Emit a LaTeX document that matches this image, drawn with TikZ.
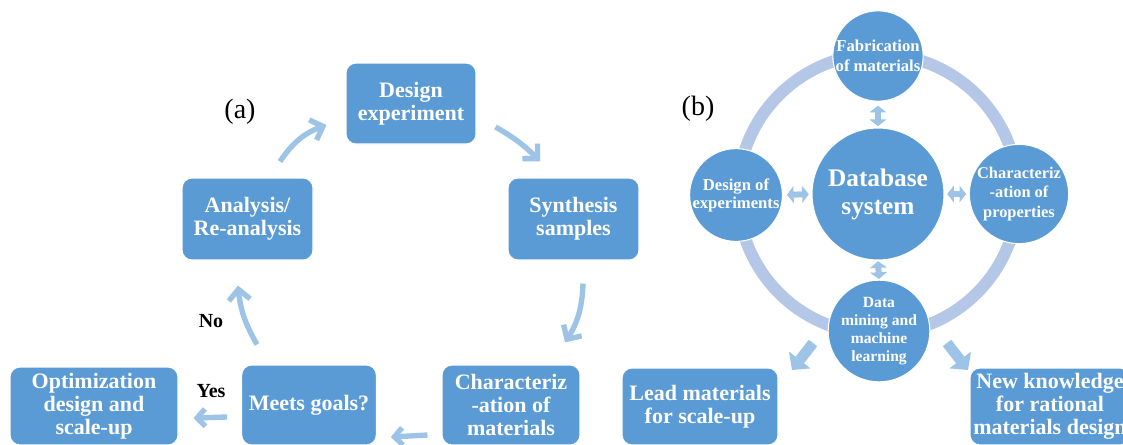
\documentclass[tikz,border=0pt]{standalone}
\usepackage{fontspec}
\setmainfont{Liberation Serif}
\usetikzlibrary{arrows.meta,calc}
\definecolor{boxblue}{HTML}{5B9BD5}
\definecolor{arrowblue}{HTML}{9DC3E6}
\definecolor{ringblue}{HTML}{B4C7E7}

\begin{document}
\begin{tikzpicture}[x=0.75pt,y=-0.75pt,
  box/.style={draw=white, line width=0.8pt, fill=boxblue, rounded corners=7.5pt,
    text=white, align=center, inner sep=0pt,
    font=\bfseries\fontsize{16.5}{17.25}\selectfont},
  disc/.style={circle, draw=white, line width=0.8pt, fill=boxblue,
    text=white, align=center, inner sep=0pt},
  flow/.style={draw=arrowblue, line width=4pt,
    -{Straight Barb[length=8pt,width=16pt]}},
  shortflow/.style={draw=arrowblue, line width=4pt,
    -{Straight Barb[length=6pt,width=13pt]}},
  twoway/.style={draw=arrowblue, line width=4.5pt,
    {Triangle[length=5pt,width=12.5pt]}-{Triangle[length=5pt,width=12.5pt]}},
  blockarrow/.style={draw=arrowblue, line width=8pt,
    -{Triangle[length=9.5pt,width=20pt]}},
  panel/.style={font=\fontsize{21}{24}\selectfont},
  answer/.style={font=\bfseries\fontsize{15}{17}\selectfont}
]
\useasboundingbox (0,0) rectangle (1123,444);

% ---------- (a) experimental cycle ----------
\node[panel] (lbla) at (240,112) {(a)};

\node[box, minimum width=97.5pt, minimum height=60.75pt] (des) at (411,103.5)
  {Design\\experiment};
\node[box, minimum width=98.25pt, minimum height=61.5pt] (syn) at (573.5,219)
  {Synthesis\\samples};
\node[box, minimum width=103.5pt, minimum height=60pt] (chr) at (511,405)
  {Characteriz\\-ation of\\materials};
\node[box, minimum width=101pt, minimum height=60pt] (met) at (309,405)
  {Meets goals?};
\node[box, minimum width=126pt, minimum height=58.5pt] (opt) at (94,406)
  {Optimization\\design and\\scale-up};
\node[box, minimum width=98.25pt, minimum height=61.5pt] (ana) at (247.5,219)
  {Analysis/\\Re-analysis};

\draw[flow] ($(ana.north)+(32.5,-16)$) to[bend left=18] ($(des.west)+(-19,21.5)$);
\draw[flow] ($(des.east)+(19,23.5)$) to[bend left=8] ($(syn.north)+(-33.5,-16)$);
\draw[flow] ($(syn.south)+(9.5,23)$) to[bend left=15] ($(chr.north)+(54,-22)$);
\draw[shortflow] ($(chr.west)+(-14,30)$) -- ($(met.east)+(14,32)$);
\draw[flow] ($(met.north)+(-52,-20)$) to[bend left=12] ($(ana.south)+(-9.5,25)$);
\draw[shortflow] ($(met.west)+(-14,12)$) -- ($(opt.east)+(15,12)$);

\node[answer] (no) at (211,321) {No};
\node[answer] (yes) at (211,391) {Yes};

% ---------- (b) database-centred loop ----------
\node[panel] (lblb) at (698,109) {(b)};

\coordinate (hub) at (878,194);
\draw[ringblue, line width=9pt] (hub) circle[radius=140];

\node[disc, minimum size=99pt, font=\bfseries\fontsize{19}{21}\selectfont] (db) at (hub)
  {Database\\system};
\node[disc, minimum size=66pt, font=\bfseries\fontsize{12.5}{15}\selectfont] (fab) at (878,56)
  {Fabrication\\of materials};
\node[disc, minimum size=66pt, font=\bfseries\fontsize{12.5}{13.5}\selectfont] (doe) at (736,195)
  {Design of\\experiments};
\node[disc, minimum size=68pt, font=\bfseries\fontsize{12.3}{14.5}\selectfont] (cop) at (1019,194)
  {Characteriz\\-ation of\\properties};
\node[disc, minimum size=68pt, font=\bfseries\fontsize{11.7}{13.6}\selectfont] (dmm) at (879,331)
  {Data\\mining and\\machine\\learning};

% two-way links between the hub and the four stages
\draw[twoway, shorten <=3pt, shorten >=1pt] (fab) -- (db);
\draw[twoway, shorten <=0.5pt, shorten >=0.5pt] (db.south) -- (dmm.north);
\draw[twoway, shorten <=3pt, shorten >=2pt] (doe.east) -- (db.west);
\draw[twoway, shorten <=2pt, shorten >=2pt] (db.east) -- (cop.west);

% outcomes of the data-mining step
\coordinate (l1) at (813,343);
\coordinate (l2) at (792,370);
\coordinate (r1) at (947,343);
\coordinate (r2) at (968,370);
\draw[blockarrow] (l1) -- (l2);
\draw[blockarrow] (r1) -- (r2);

\node[box, minimum width=117pt, minimum height=57.75pt] (lead) at (700,406.5)
  {Lead materials\\for scale-up};
\node[box, minimum width=120pt, minimum height=57.75pt] (newk) at (1050,406.5)
  {New knowledge\\for rational\\materials design};
\end{tikzpicture}
\end{document}
